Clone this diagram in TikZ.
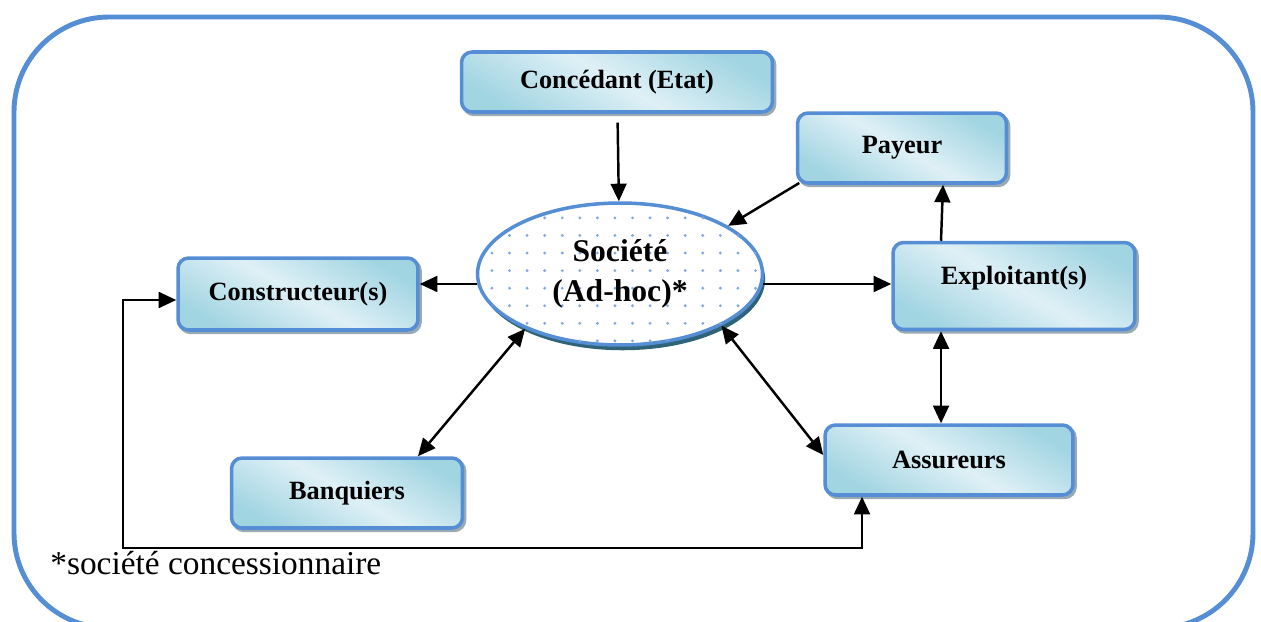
\documentclass[tikz,border=0pt]{standalone}
\usepackage{fontspec}
\setmainfont{Liberation Serif}
\usepackage{xcolor}
\definecolor{frame-blue}{HTML}{558ED5}
\definecolor{box-dark}{HTML}{A2D5E2}
\definecolor{box-light}{HTML}{DFF0F6}
\definecolor{box-shadow}{HTML}{9AAAB2}
\definecolor{hub-shadow}{HTML}{2F6478}
\definecolor{dot-blue}{HTML}{7FA8E0}
\usepackage{tikz}
\usetikzlibrary{shapes.geometric}
\usetikzlibrary{shadows}
\usetikzlibrary{patterns.meta}
\usetikzlibrary{arrows.meta}
\pgfdeclarehorizontalshading{boxshade}{100bp}{color(0bp)=(box-dark); color(25bp)=(box-dark); color(50bp)=(box-light); color(75bp)=(box-dark); color(100bp)=(box-dark)}
\tikzset{box/.style = {draw=frame-blue, line width=2pt, rounded corners=6pt, align=center, text centered, font=\fontsize{15}{18}\selectfont\bfseries, shade, shading=boxshade, shading angle=60, general shadow={draw=box-shadow, fill=box-shadow, shadow xshift=1.2pt, shadow yshift=-1.4pt}}}
\tikzset{hub/.style = {ellipse, draw=frame-blue, line width=2pt, minimum width=5.7cm, minimum height=2.84cm, fill=white, postaction={pattern={Dots[distance=10pt, radius=0.9pt]}, pattern color=dot-blue}, general shadow={fill=hub-shadow, shadow xshift=1.5pt, shadow yshift=-3pt}, align=center, font=\fontsize{18}{23}\selectfont\bfseries}}
\tikzset{arr/.style = {line width=1.4pt, -{Triangle[length=10pt, width=9pt]}}}
\tikzset{dbl/.style = {line width=1.4pt, {Triangle[length=10pt, width=9pt]}-{Triangle[length=10pt, width=9pt]}}}

\begin{document}
\begin{tikzpicture}[x=0.02cm, y=-0.02cm]
\useasboundingbox (0,0) rectangle (1261,622);
\draw[frame-blue, line width=2.8pt, rounded corners=1.9cm] (14,17) rectangle (1253,628);

\node[box, minimum width=6.22cm, minimum height=1.2cm] (conc) at (617,82) {Concédant (Etat)};
\node[box, minimum width=4.18cm, minimum height=1.4cm] (pay) at (902,148) {Payeur};
\node[hub] (soc) at (620,274) {Société\\(Ad-hoc)*};
\node[box, minimum width=4.8cm, minimum height=1.44cm] (cons) at (298,294) {Constructeur(s)};
\node[box, minimum width=4.84cm, minimum height=1.74cm] (expl) at (1014,286) {\raisebox{0.44cm}{Exploitant(s)}};
\node[box, minimum width=4.62cm, minimum height=1.4cm] (banq) at (347,493) {Banquiers};
\node[box, minimum width=4.96cm, minimum height=1.4cm] (assur) at (949,460) {Assureurs};
\node[anchor=west, font=\fontsize{19}{22}\selectfont, inner sep=0pt] (note) at (50,563) {*société concessionnaire};

\draw[arr, shorten <=5pt] (conc) -- (soc);
\draw[arr] ([shift={(2pt,1pt)}]pay.south west) -- (soc.24);
\draw[arr] (soc.184.5) -- (soc.184.5 -| cons.east);
\draw[arr] (soc.-4.5) -- (soc.-4.5 -| expl.west);
\draw[arr] ([xshift=-1.46cm]expl.north) -- ([xshift=0.82cm]pay.south);
\draw[dbl] ([xshift=-1.46cm]expl.south) -- ([xshift=-1.46cm]expl.south |- assur.north);
\draw[dbl] (soc.210) -- ([xshift=1.42cm]banq.north);
\draw[dbl] (soc.-27) -- ([yshift=0.1cm]assur.west);
% return path below the boxes
\coordinate (loop) at (123,548);
\draw[dbl] ([xshift=-1.74cm]assur.south) |- (loop) |- ([yshift=-0.12cm]cons.west);

\end{tikzpicture}
\end{document}
